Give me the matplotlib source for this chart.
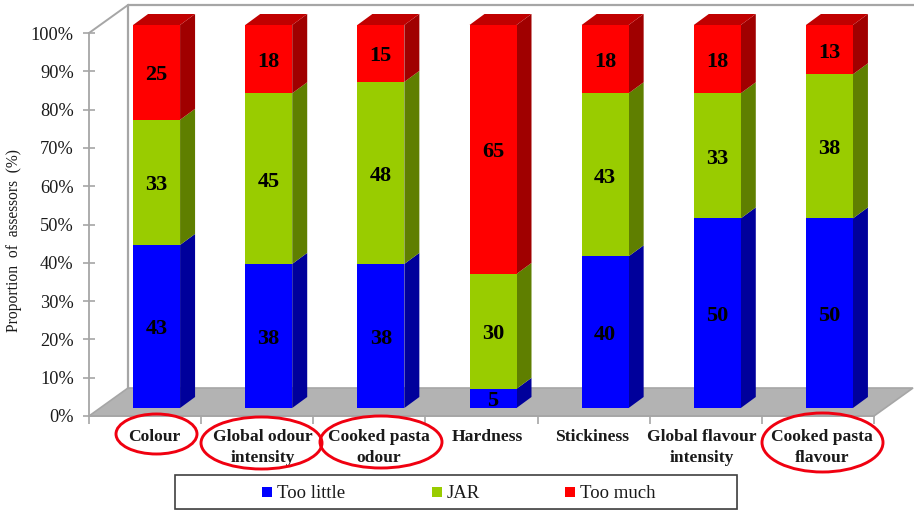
import matplotlib
matplotlib.use("Agg")
import matplotlib.pyplot as plt
from matplotlib.patches import Polygon, Ellipse, Rectangle

plt.rcParams['font.family'] = ['Liberation Serif', 'DejaVu Serif']

attributes = ["Colour", "Global odour\nintensity", "Cooked pasta\nodour", "Hardness",
              "Stickiness", "Global flavour\nintensity", "Cooked pasta\nflavour"]
too_little = [43, 38, 38, 5, 40, 50, 50]
jar = [33, 45, 48, 30, 43, 33, 38]
too_much = [25, 18, 15, 65, 18, 18, 13]
series_names = ["Too little", "JAR", "Too much"]
y_ticks = [0, 10, 20, 30, 40, 50, 60, 70, 80, 90, 100]

W, H = 914, 513
X0, X1, Y0, Y100 = 89, 874, 416, 33     # plot box in pixels
fig = plt.figure(figsize=(W / 100, H / 100), dpi=100, facecolor="white")
ax = fig.add_axes([X0 / W, 1 - Y0 / H, (X1 - X0) / W, (Y0 - Y100) / H])
ax.set_xlim(0, 7)
ax.set_ylim(0, 100)
ax.set_facecolor("none")

ux = 7 / (X1 - X0)      # data units per pixel
uy = 100 / (Y0 - Y100)

GRID = "#a6a6a6"
FLOOR = "#b3b3b3"
WALL_DX, WALL_DY = 39 * ux, 28 * uy
BAR_W = 47 * ux
BAR_SHIFT = 11.5 * ux
BAR_LIFT = 8 * uy
SIDE_DX, SIDE_DY = 15 * ux, 11 * uy
TEXT_DROP = 3 * uy

# Floor and back wall
ax.add_patch(Polygon([(0, 0), (7, 0), (7 + WALL_DX, WALL_DY), (WALL_DX, WALL_DY)],
                     closed=True, fc=FLOOR, ec=GRID, lw=1.2, clip_on=False, zorder=1))
ax.plot([WALL_DX, WALL_DX, 7 + WALL_DX], [WALL_DY, 100 + WALL_DY, 100 + WALL_DY],
        color=GRID, lw=1.6, clip_on=False, zorder=1)
ax.plot([0, WALL_DX], [100, 100 + WALL_DY], color=GRID, lw=1.4, clip_on=False, zorder=1)

# Stacked 100 % bars, each with a darker side and a lid
styles = [("#0000ff", "#00009b"), ("#99cc00", "#5f7f00"), ("#ff0000", "#a00000")]
for i, vals in enumerate(zip(too_little, jar, too_much)):
    total = sum(vals)
    left = i + 0.5 + BAR_SHIFT - BAR_W / 2
    right = left + BAR_W
    cum = 0.0
    for k, (v, (face, side)) in enumerate(zip(vals, styles)):
        share = v / total * 100
        b = cum + BAR_LIFT
        t = b + share
        ax.add_patch(Polygon([(right, b), (right + SIDE_DX, b + SIDE_DY),
                              (right + SIDE_DX, t + SIDE_DY), (right, t)],
                             closed=True, fc=side, lw=0, clip_on=False, zorder=3))
        ax.bar(left + BAR_W / 2, share, BAR_W, bottom=b, color=face, lw=0,
               clip_on=False, zorder=4)
        ax.text(left + BAR_W / 2, b + share / 2 - TEXT_DROP, str(v), ha="center", va="center",
                fontsize=16, fontweight="bold", color="black", zorder=6)
        cum += share
    top = cum + BAR_LIFT
    ax.add_patch(Polygon([(left, top), (right, top), (right + SIDE_DX, top + SIDE_DY),
                          (left + SIDE_DX, top + SIDE_DY)],
                         closed=True, fc="#c00000", lw=0, clip_on=False, zorder=3))

# Axes and ticks
for name in ("top", "right"):
    ax.spines[name].set_visible(False)
for name in ("left", "bottom"):
    ax.spines[name].set_color(GRID)
    ax.spines[name].set_linewidth(1.3)
    ax.spines[name].set_zorder(2)
ax.set_yticks(y_ticks)
ax.set_yticklabels([f"{t}%" for t in y_ticks], fontsize=13.2, color="#1a1a1a")
ax.tick_params(axis="y", direction="inout", length=8, width=1.2, color=GRID, pad=7)
ax.set_xticks(range(8))
ax.set_xticklabels([])
ax.tick_params(axis="x", direction="out", length=6, width=1.2, color=GRID)

# Overlay in pixel coordinates for the category names, rings and legend
ov = fig.add_axes([0, 0, 1, 1])
ov.set_xlim(0, W)
ov.set_ylim(H, 0)
ov.axis("off")
ov.patch.set_alpha(0)

label_x = [154, 263, 379, 487, 592, 702, 822]
for x, name in zip(label_x, attributes):
    ov.text(x, 429, name, ha="center", va="top", fontsize=12.6, fontweight="bold",
            color="#1a1a1a", linespacing=1.42)

rings = [(156.5, 434, 81, 40), (261.5, 443, 121, 52), (381, 442, 122, 52), (822.5, 442.5, 121, 59)]
for cx, cy, w, h in rings:
    ov.add_patch(Ellipse((cx, cy), w, h, fc="none", ec="#f00010", lw=2.1, zorder=5))

ov.text(14, 240.5, "Proportion  of  assessors  (%)", rotation=90, ha="center", va="center",
        fontsize=11.2, color="#1a1a1a")

# Legend
ov.add_patch(Rectangle((176, 476), 562, 34, fc="#d9d9d9", ec="none", zorder=1))
ov.add_patch(Rectangle((175, 475), 562, 34, fc="white", ec="#404040", lw=1.2, zorder=2))
legend_x = [262, 432, 565]
for x, name, (face, _) in zip(legend_x, series_names, styles):
    ov.add_patch(Rectangle((x, 487), 10, 10, fc=face, lw=0, zorder=3))
    ov.text(x + 15, 492, name, ha="left", va="center_baseline", fontsize=13.5, color="#1a1a1a", zorder=3)

fig.savefig("out.png", dpi=100)
